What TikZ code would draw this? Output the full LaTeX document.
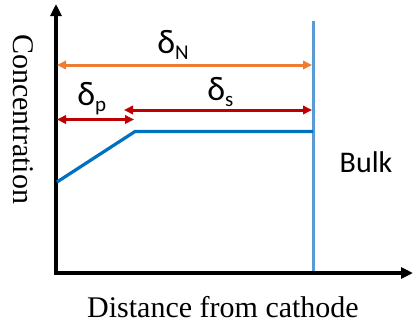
\documentclass[tikz,border=0pt]{standalone}
\usepackage{fontspec}
\setmainfont{Liberation Serif}
\newfontfamily\calib{Carlito}
\usetikzlibrary{arrows.meta}
\definecolor{axblue}{RGB}{91,155,213}
\definecolor{curveblue}{RGB}{0,112,192}
\definecolor{orangeA}{RGB}{237,125,49}
\definecolor{redA}{RGB}{192,0,0}
\tikzset{
  axis/.style={line width=1.6pt, -{Triangle[length=6pt,width=5.5pt]}},
  dim/.style={line width=1.5pt, {Triangle[length=4.5pt,width=4.2pt]}-{Triangle[length=4.5pt,width=4.2pt]}},
  lbl/.style={inner sep=0pt, font=\calib\fontsize{15}{18}\selectfont},
  serif/.style={inner sep=0pt, font=\fontsize{15}{18}\selectfont}
}
\newcommand{\dlt}[1]{{\fontsize{17}{20}\selectfont δ}\raisebox{-3pt}{\fontsize{10.5}{12}\selectfont #1}}
\begin{document}
\begin{tikzpicture}[x=0.5pt,y=-0.5pt]
\useasboundingbox (0,0) rectangle (413,323);
\coordinate (O) at (56,273);
\coordinate (Ytop) at (56,4);
\coordinate (Xend) at (413,273);
\coordinate (Btop) at (313,21);
\coordinate (Bbot) at (313,273);
\coordinate (nL) at (57,65);
\coordinate (nR) at (312,65);
\coordinate (pL) at (57,119.5);
\coordinate (pR) at (134,119.5);
\coordinate (sL) at (124,110);
\coordinate (sR) at (312,110);
\coordinate (c0) at (57,182);
\coordinate (c1) at (135,131.5);
\coordinate (c2) at (313,131.5);
% bulk boundary
\draw[axblue, line width=1.5pt] (Btop) -- (Bbot);
% axes
\draw[axis] ([yshift=-0.8pt]O) -- (Ytop);
\draw[axis] ([xshift=-0.8pt]O) -- (Xend);
% concentration profile
\draw[curveblue, line width=1.6pt] (c0) -- (c1) -- (c2);
% dimension arrows
\draw[dim, orangeA] (nL) -- (nR);
\draw[dim, redA] (pL) -- (pR);
\draw[dim, redA] (sL) -- (sR);
% labels
\node[lbl, anchor=base west] (dN) at (157,53) {\dlt{N}};
\node[lbl, anchor=base west] (dS) at (207,100) {\dlt{s}};
\node[lbl, anchor=base west] (dP) at (77,105) {\dlt{p}};
\node[lbl, anchor=base] (bulk) at (366,172) {Bulk};
\node[serif, anchor=base, rotate=-90] (ylab) at (13,119) {Concentration};
\node[serif, anchor=base] (xlab) at (223,317) {Distance from cathode};
\end{tikzpicture}
\end{document}
